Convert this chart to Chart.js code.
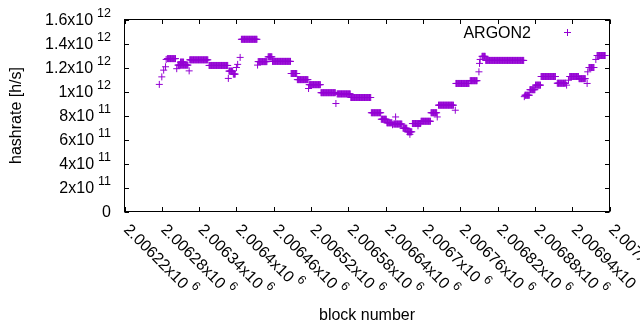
<!DOCTYPE html>
<html>
<head>
<meta charset="utf-8">
<script src="https://cdn.jsdelivr.net/npm/chart.js@4.4.1/dist/chart.umd.min.js"></script>
<style>
  html, body { margin: 0; padding: 0; background: #fff; }
  canvas { display: block; }
</style>
</head>
<body>
<canvas id="hashChart" width="640" height="330"></canvas>
<script>
// Flat stretches: every block from runFirst to runLast has the same hashrate
const runFirst = [2006289, 2006306, 2006310, 2006325, 2006356, 2006388, 2006395, 2006408, 2006435, 2006451,
                  2006458, 2006488, 2006498, 2006517, 2006536, 2006562, 2006584, 2006617, 2006633, 2006642,
                  2006653, 2006668, 2006675, 2006683, 2006697, 2006713, 2006725, 2006753, 2006776, 2006795,
                  2006801, 2006864, 2006872, 2006881, 2006890, 2006916, 2006936, 2006951, 2006967, 2006980];
const runLast  = [2006302, 2006322, 2006315, 2006354, 2006386, 2006394, 2006398, 2006433, 2006449, 2006457,
                  2006487, 2006497, 2006515, 2006535, 2006559, 2006583, 2006616, 2006632, 2006641, 2006650,
                  2006666, 2006674, 2006682, 2006696, 2006712, 2006722, 2006749, 2006774, 2006787, 2006800,
                  2006862, 2006871, 2006880, 2006889, 2006913, 2006929, 2006950, 2006961, 2006975, 2006993];
const runRate  = [1.274e12, 1.22e12, 1.245e12, 1.264e12, 1.217e12, 1.17e12, 1.145e12, 1.435e12, 1.249e12, 1.289e12,
                  1.251e12, 1.15e12, 1.099e12, 1.057e12, 0.99e12, 0.98e12, 0.95e12, 0.823e12, 0.769e12, 0.739e12,
                  0.729e12, 0.694e12, 0.664e12, 0.733e12, 0.752e12, 0.823e12, 0.886e12, 1.067e12, 1.09e12, 1.293e12,
                  1.259e12, 0.969e12, 1.015e12, 1.053e12, 1.125e12, 1.069e12, 1.125e12, 1.107e12, 1.2e12, 1.3e12];

// Single blocks that stand out
const pointBlock = [2006276, 2006280, 2006283, 2006286, 2006287, 2006304, 2006324, 2006387, 2006400, 2006402,
                    2006406, 2006434, 2006516, 2006560, 2006651, 2006656, 2006679, 2006692, 2006723, 2006752,
                    2006790, 2006791, 2006792, 2006863, 2006931, 2006934, 2006964, 2006965, 2006978];
const pointRate  = [1.059e12, 1.122e12, 1.178e12, 1.206e12, 1.267e12, 1.19e12, 1.172e12, 1.109e12, 1.2e12, 1.226e12,
                    1.284e12, 1.22e12, 1.025e12, 0.9e12, 0.723e12, 0.788e12, 0.643e12, 0.714e12, 0.788e12, 0.844e12,
                    1.164e12, 1.234e12, 1.267e12, 0.957e12, 1.053e12, 1.094e12, 1.067e12, 1.164e12, 1.267e12];

const xTickLabels = ['2.00622x10^6', '2.00628x10^6', '2.00634x10^6', '2.0064x10^6', '2.00646x10^6',
                     '2.00652x10^6', '2.00658x10^6', '2.00664x10^6', '2.0067x10^6', '2.00676x10^6',
                     '2.00682x10^6', '2.00688x10^6', '2.00694x10^6', '2.007x10^6'];
const yTickLabels = ['0', '2x10^11', '4x10^11', '6x10^11', '8x10^11', '1x10^12', '1.2x10^12', '1.4x10^12', '1.6x10^12'];

const seriesName = 'ARGON2';
const purple = '#9400d3';
const FONT = '"Liberation Sans", Arial, sans-serif';

// "1.2x10^12" -> 1.2e12
function labelValue(label) {
    const [base, exp] = label.split('^');
    const m = parseFloat(base);
    return exp ? m * Math.pow(10, parseInt(exp)) : m;
}

// build the point list
const points = [];
runFirst.forEach((first, i) => {
    for (let b = first; b <= runLast[i]; b++) points.push({ x: b, y: runRate[i] });
});
pointBlock.forEach((b, i) => points.push({ x: b, y: pointRate[i] }));
points.sort((a, b) => a.x - b.x);

// draw "mantissa x10" with a raised exponent, starting at (x, y) baseline
function drawSci(ctx, label, x, y) {
    const [base, exp] = label.split('^');
    ctx.font = '16px ' + FONT;
    ctx.fillText(base, x, y);
    if (exp) {
        const w = ctx.measureText(base).width;
        ctx.font = '12.5px ' + FONT;
        ctx.fillText(exp, x + w + 4, y - 8.4);
    }
}
function sciWidth(ctx, label) {
    const [base, exp] = label.split('^');
    ctx.font = '16px ' + FONT;
    let w = ctx.measureText(base).width;
    if (exp) {
        ctx.font = '12.5px ' + FONT;
        w += 4 + ctx.measureText(exp).width;
    }
    return w;
}

function drawCross(ctx, x, y, r) {
    ctx.beginPath();
    ctx.moveTo(x - r, y); ctx.lineTo(x + r, y);
    ctx.moveTo(x, y - r); ctx.lineTo(x, y + r);
    ctx.stroke();
}

// gnuplot-like border, inward ticks, labels, titles and key
const gnuplotFrame = {
    id: 'gnuplotFrame',
    afterDraw(chart) {
        const { ctx, chartArea: a, scales: { x, y } } = chart;
        ctx.save();
        ctx.strokeStyle = '#000';
        ctx.fillStyle = '#000';
        ctx.lineWidth = 1;
        ctx.strokeRect(a.left, a.top, a.right - a.left, a.bottom - a.top);

        const tick = 4.5;
        ctx.beginPath();
        yTickLabels.forEach(l => {
            const py = Math.round(y.getPixelForValue(labelValue(l))) + 0.5;
            ctx.moveTo(a.left, py); ctx.lineTo(a.left + tick, py);
            ctx.moveTo(a.right, py); ctx.lineTo(a.right - tick, py);
        });
        xTickLabels.forEach(l => {
            const px = Math.round(x.getPixelForValue(labelValue(l))) + 0.5;
            ctx.moveTo(px, a.bottom); ctx.lineTo(px, a.bottom - tick);
            ctx.moveTo(px, a.top); ctx.lineTo(px, a.top + tick);
        });
        ctx.stroke();

        ctx.textAlign = 'left';
        ctx.textBaseline = 'alphabetic';
        yTickLabels.forEach(l => {
            const py = y.getPixelForValue(labelValue(l));
            drawSci(ctx, l, 111 - sciWidth(ctx, l), py + 5.5);
        });
        xTickLabels.forEach(l => {
            const px = x.getPixelForValue(labelValue(l));
            ctx.save();
            ctx.translate(px + 2.5, a.bottom + 15);
            ctx.rotate(Math.PI / 4);
            drawSci(ctx, l, 0, 5.7);
            ctx.restore();
        });

        // axis titles
        ctx.font = '16px ' + FONT;
        ctx.textAlign = 'center';
        ctx.textBaseline = 'middle';
        ctx.fillText('block number', (a.left + a.right) / 2, 316);
        ctx.save();
        ctx.translate(17, (a.top + a.bottom) / 2);
        ctx.rotate(-Math.PI / 2);
        ctx.fillText('hashrate [h/s]', 0, 0);
        ctx.restore();

        // key
        ctx.textAlign = 'right';
        ctx.textBaseline = 'alphabetic';
        ctx.fillText(seriesName, 531, 37.5);
        ctx.strokeStyle = purple;
        drawCross(ctx, 567.5, 32.5, 3.5);
        ctx.restore();
    }
};

const ctx = document.getElementById('hashChart');
new Chart(ctx, {
    type: 'scatter',
    data: {
        datasets: [{
            label: seriesName,
            data: points,
            pointStyle: 'cross',
            pointRadius: 3.5,
            pointBorderWidth: 1,
            borderColor: purple,
            backgroundColor: purple
        }]
    },
    options: {
        responsive: false,
        animation: false,
        events: [],
        layout: { padding: { left: 124.5, right: 30.5, top: 19.5, bottom: 118.5 } },
        scales: {
            x: { type: 'linear', display: false, min: 2006220, max: 2007000 },
            y: { type: 'linear', display: false, min: 0, max: 1.6e12 }
        },
        plugins: { legend: { display: false }, tooltip: { enabled: false } }
    },
    plugins: [gnuplotFrame]
});
</script>
</body>
</html>
